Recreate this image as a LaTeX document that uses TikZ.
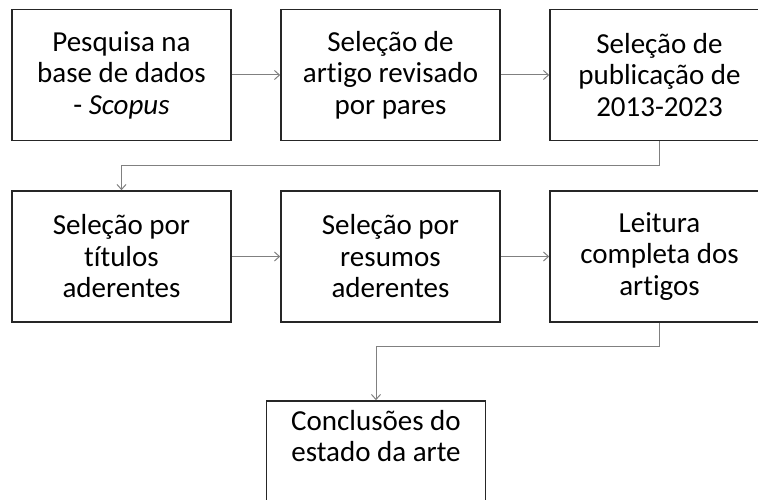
\documentclass[tikz,border=0pt]{standalone}
\usepackage{fontspec}
\setmainfont{Carlito}[Ligatures=NoCommon]
\usetikzlibrary{arrows.meta}

\begin{document}
\begin{tikzpicture}[x=1pt, y=-1pt,
    etapa/.style={draw=black!85, line width=1.6pt, minimum width=219pt, minimum height=131pt, align=center, inner sep=0pt, font=\fontsize{29}{31.5}\selectfont},
    texto/.style={align=center, inner sep=0pt, font=\fontsize{29}{31.5}\selectfont},
    seta/.style={draw=black!50, line width=1pt, -{Straight Barb[length=5pt, width=9pt]}}]
    \useasboundingbox (0, 0) rectangle (758, 500);
    \node[etapa] (pesquisa) at (121.5, 75) {Pesquisa na\\base de dados\\- \textit{Scopus}};
    \node[etapa] (revisado) at (390.5, 75) {Seleção de\\artigo revisado\\por pares};
    \node[etapa] (periodo) at (659.5, 75) {Seleção de\\publicação de\\2013-2023};
    \node[etapa] (titulos) at (121.5, 256.5) {Seleção por\\títulos\\aderentes};
    \node[etapa] (resumos) at (390.5, 256.5) {Seleção por\\resumos\\aderentes};
    \node[etapa] (leitura) at (659.5, 256.5) {Leitura\\completa dos\\artigos};
    \node[etapa] (conclusao) at (376, 466.5) {};
    \node[texto] (conclusaotexto) at (376, 436) {Conclusões do\\estado da arte};
    \draw[seta] (pesquisa) -- (revisado);
    \draw[seta] (revisado) -- (periodo);
    \draw[seta] (periodo.south) -- ++(0, 24) -| (titulos.north);
    \draw[seta] (titulos) -- (resumos);
    \draw[seta] (resumos) -- (leitura);
    \draw[seta] (leitura.south) -- ++(0, 24) -| (conclusao.north);
\end{tikzpicture}
\end{document}
